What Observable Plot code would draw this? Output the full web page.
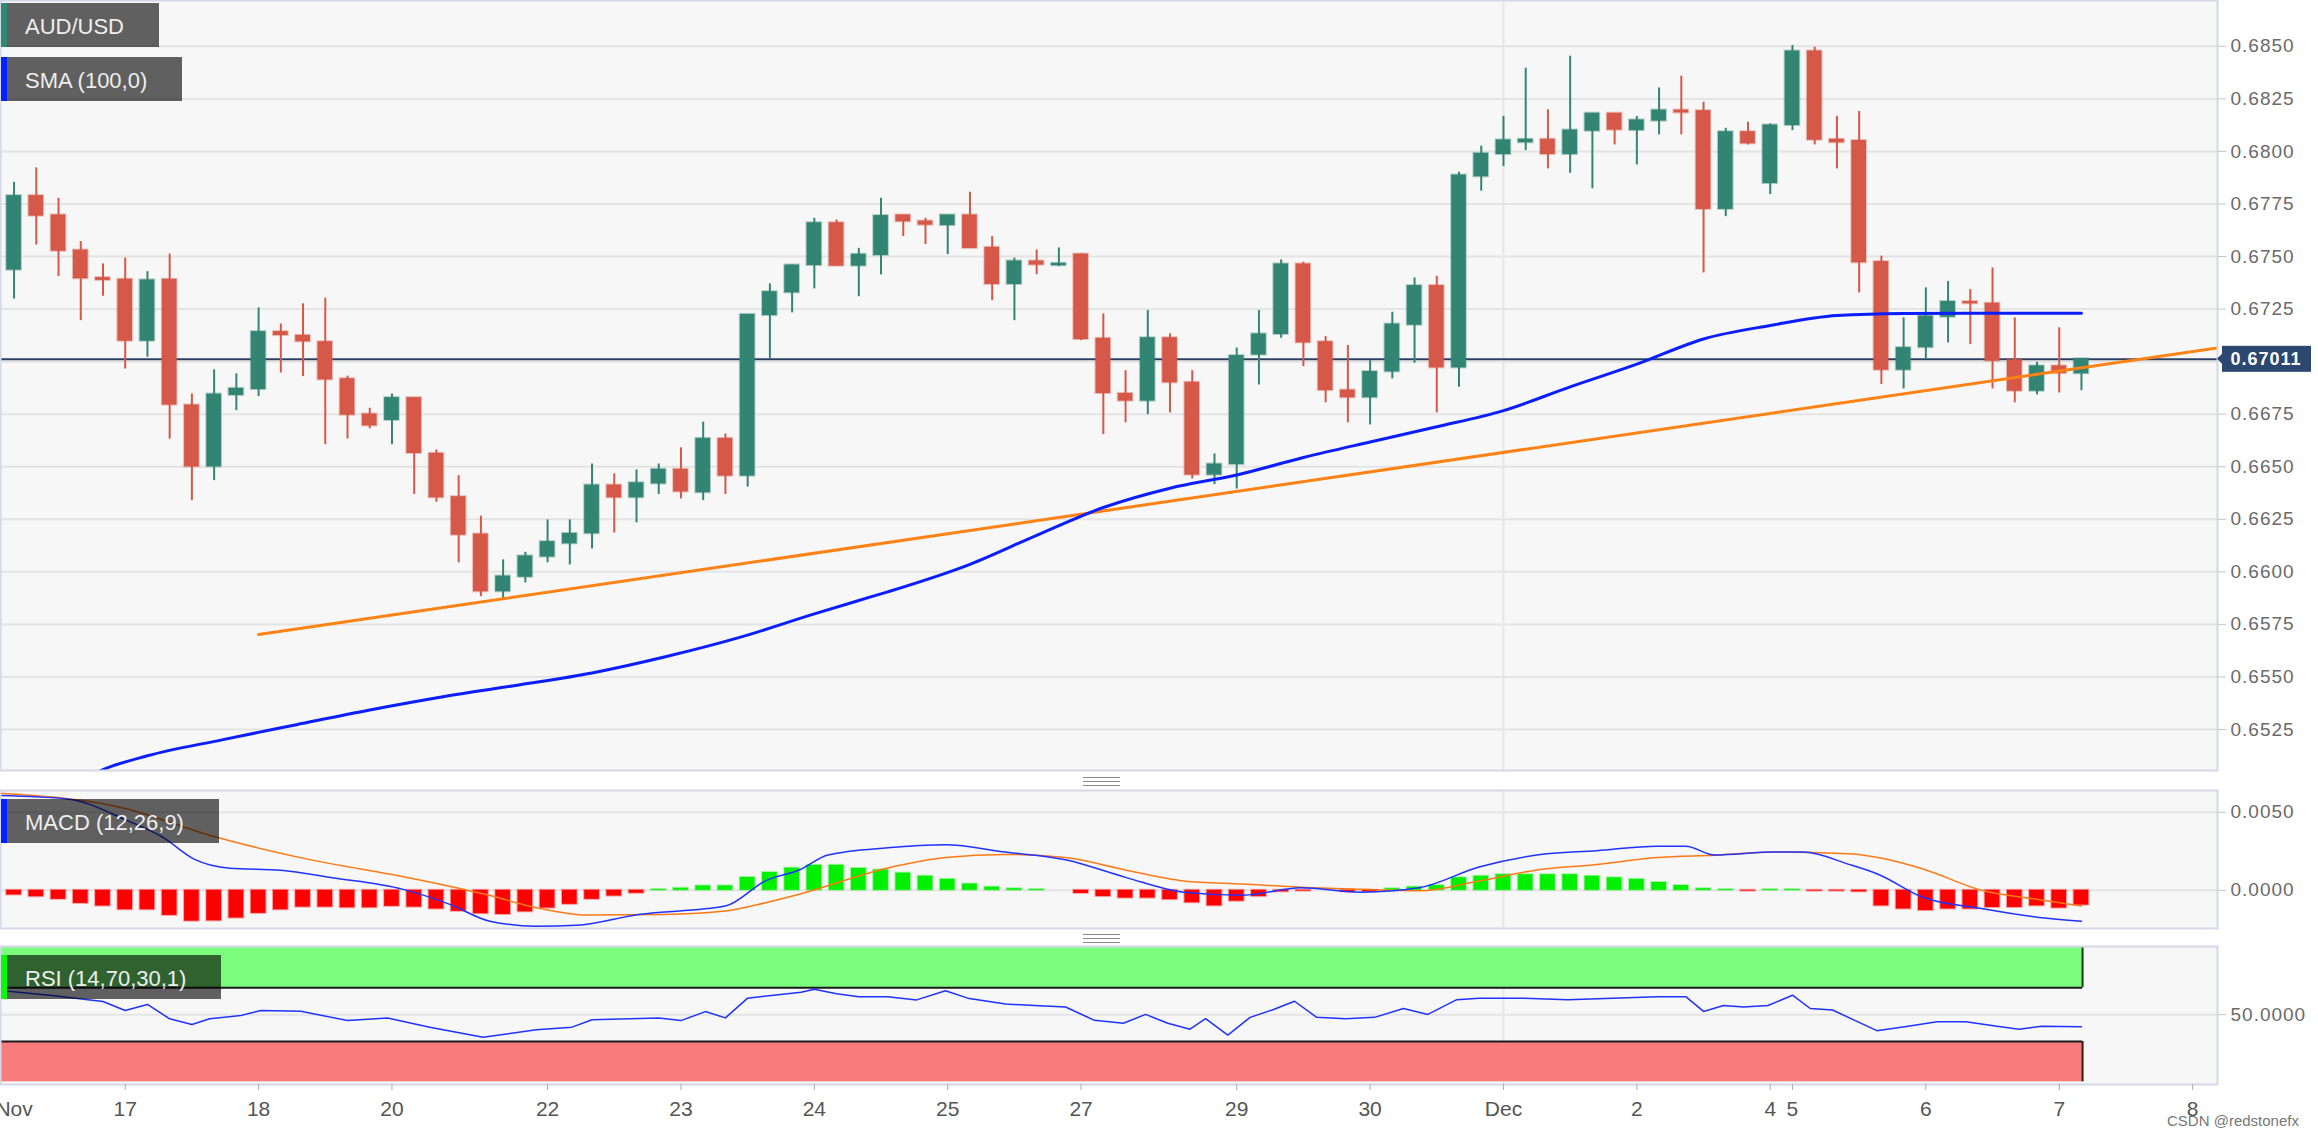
<!DOCTYPE html>
<html><head><meta charset="utf-8">
<script src="https://cdn.jsdelivr.net/npm/d3@7"></script>
<script src="https://cdn.jsdelivr.net/npm/@observablehq/plot@0.6"></script>
<style>
html,body{margin:0;padding:0;background:#fff}
body{width:2318px;height:1135px;overflow:hidden;position:relative;font-family:"Liberation Sans",Arial,sans-serif}
#root svg{position:absolute;left:0}
.tag{position:absolute;left:1px;height:44px;line-height:48px;background:rgba(0,0,0,0.61);color:#eeeeee;font-size:22px;padding:0 35px 0 18px;border-left:6px solid #000;white-space:nowrap;z-index:5}
.handle{position:absolute;width:37px;height:7px;border-top:1px solid #888;border-bottom:1px solid #888;z-index:5}
.handle::after{content:"";position:absolute;left:0;right:0;top:3px;border-top:1px solid #888}
.wm{position:absolute;left:2167px;top:1112px;font-size:15px;color:#777;z-index:5;white-space:nowrap}
</style>
</head><body>
<div id="root"></div>
<script>
// ---------- DATA ----------
const candleOpen  = [0.67438,0.67787,0.67695,0.67528,0.67397,0.67389,0.67100,0.67389,0.66791,0.66502,0.66842,0.66870,0.67140,0.67122,0.67092,0.66916,0.66748,0.66723,0.66826,0.66561,0.66355,0.66177,0.65908,0.65977,0.66073,0.66136,0.66184,0.66410,0.66355,0.66421,0.66485,0.66379,0.66632,0.66458,0.67222,0.67330,0.67460,0.67658,0.67457,0.67508,0.67695,0.67666,0.67650,0.67695,0.67541,0.67370,0.67476,0.67459,0.67509,0.67108,0.66846,0.66815,0.67111,0.66899,0.66463,0.66513,0.67034,0.67132,0.67462,0.67092,0.66862,0.66831,0.66954,0.67176,0.67359,0.66973,0.67882,0.67988,0.68044,0.68055,0.67988,0.68099,0.68179,0.68102,0.68147,0.68194,0.68191,0.67727,0.68091,0.67850,0.68126,0.68475,0.68055,0.68049,0.67473,0.66962,0.67069,0.67214,0.67283,0.67275,0.67005,0.66862,0.66977,0.66945];
const candleHigh  = [0.67853,0.67922,0.67777,0.67571,0.67465,0.67493,0.67428,0.67512,0.66846,0.66961,0.66942,0.67256,0.67179,0.67275,0.67302,0.66931,0.66778,0.66846,0.66826,0.66580,0.66458,0.66265,0.66057,0.66093,0.66247,0.66247,0.66513,0.66466,0.66485,0.66513,0.66590,0.66712,0.66656,0.67222,0.67370,0.67460,0.67682,0.67674,0.67539,0.67777,0.67695,0.67682,0.67695,0.67806,0.67595,0.67493,0.67531,0.67541,0.67512,0.67227,0.66957,0.67243,0.67132,0.66957,0.66561,0.67065,0.67243,0.67484,0.67473,0.67119,0.67077,0.67005,0.67235,0.67398,0.67406,0.67901,0.68025,0.68167,0.68396,0.68198,0.68453,0.68179,0.68179,0.68166,0.68302,0.68358,0.68234,0.68110,0.68139,0.68131,0.68504,0.68496,0.68167,0.68190,0.67502,0.67208,0.67351,0.67381,0.67343,0.67446,0.67208,0.66997,0.67161,0.67011];
const candleLow   = [0.67298,0.67555,0.67405,0.67195,0.67311,0.66965,0.67021,0.66631,0.66339,0.66434,0.66767,0.66834,0.66946,0.66929,0.66605,0.66632,0.66680,0.66605,0.66368,0.66331,0.66043,0.65882,0.65871,0.65947,0.66043,0.66033,0.66109,0.66185,0.66233,0.66368,0.66347,0.66339,0.66368,0.66403,0.67013,0.67232,0.67346,0.67455,0.67309,0.67413,0.67595,0.67557,0.67509,0.67541,0.67290,0.67195,0.67414,0.67452,0.67100,0.66653,0.66709,0.66748,0.66756,0.66442,0.66415,0.66394,0.66889,0.67111,0.66976,0.66804,0.66709,0.66699,0.66918,0.66992,0.66756,0.66878,0.67811,0.67928,0.68004,0.67917,0.67896,0.67822,0.68031,0.67936,0.68079,0.68079,0.67422,0.67690,0.68031,0.67795,0.68099,0.68031,0.67917,0.67327,0.66891,0.66870,0.67013,0.67089,0.67081,0.66870,0.66804,0.66842,0.66851,0.66862];
const candleClose = [0.67787,0.67695,0.67528,0.67397,0.67389,0.67100,0.67386,0.66796,0.66502,0.66843,0.66870,0.67140,0.67127,0.67097,0.66916,0.66748,0.66697,0.66826,0.66566,0.66355,0.66177,0.65908,0.65977,0.66073,0.66141,0.66180,0.66410,0.66355,0.66421,0.66485,0.66383,0.66632,0.66458,0.67222,0.67330,0.67457,0.67658,0.67457,0.67508,0.67692,0.67668,0.67652,0.67695,0.67541,0.67370,0.67476,0.67462,0.67465,0.67108,0.66851,0.66815,0.67111,0.66902,0.66463,0.66510,0.67026,0.67129,0.67462,0.67092,0.66865,0.66831,0.66950,0.67176,0.67359,0.66973,0.67885,0.67988,0.68052,0.68055,0.67988,0.68099,0.68179,0.68104,0.68147,0.68194,0.68186,0.67727,0.68091,0.68039,0.68123,0.68475,0.68056,0.68044,0.67473,0.66962,0.67064,0.67214,0.67283,0.67278,0.67005,0.66862,0.66977,0.66946,0.67011];
const lastPrice = 0.67011;

const smaIdx = [3.0,3.9,6.0,9.4,12.7,16.0,19.3,22.7,26.0,29.3,32.6,36.0,38.0,39.3,43,46,49,52,55,58,61,64,67,70,73,76,79,82,85,88,93];
const smaVal = [0.65008,0.65055,0.65125,0.65202,0.65273,0.65343,0.65406,0.65462,0.65519,0.65596,0.65687,0.65800,0.65864,0.65905,0.66036,0.66174,0.66306,0.66398,0.66461,0.66544,0.66618,0.66690,0.66767,0.66880,0.66988,0.67108,0.67172,0.67219,0.67229,0.67230,0.67230];

const trendIdx = [11, 99.12];
const trendVal = [0.65702, 0.67065];

const gridTicks = [0.6525,0.6550,0.6575,0.6600,0.6625,0.6650,0.6675,0.6700,0.6725,0.6750,0.6775,0.6800,0.6825,0.6850];
const priceTickLabels = [0.6525,0.6550,0.6575,0.6600,0.6625,0.6650,0.6675,0.6725,0.6750,0.6775,0.6800,0.6825,0.6850];

const histVal = [-0.00030,-0.00041,-0.00058,-0.00084,-0.00101,-0.00125,-0.00125,-0.00161,-0.00198,-0.00196,-0.00178,-0.00148,-0.00125,-0.00108,-0.00108,-0.00112,-0.00112,-0.00103,-0.00108,-0.00120,-0.00135,-0.00150,-0.00155,-0.00138,-0.00114,-0.00090,-0.00058,-0.00037,-0.00019,0.00005,0.00013,0.00028,0.00028,0.00082,0.00114,0.00142,0.00160,0.00160,0.00140,0.00130,0.00110,0.00090,0.00070,0.00040,0.00020,0.00010,0.00005,0.00000,-0.00020,-0.00040,-0.00050,-0.00050,-0.00060,-0.00080,-0.00100,-0.00070,-0.00040,-0.00010,-0.00005,0.00000,-0.00010,-0.00010,0.00010,0.00020,0.00030,0.00080,0.00090,0.00100,0.00100,0.00100,0.00100,0.00090,0.00080,0.00070,0.00050,0.00030,0.00010,0.00005,-0.00005,0.00005,0.00005,-0.00005,-0.00005,-0.00010,-0.00100,-0.00120,-0.00130,-0.00120,-0.00120,-0.00110,-0.00110,-0.00100,-0.00114,-0.00095];

const macdIdx = [-0.6,2.4,5.1,6.7,8.1,9.7,12,14.3,17.5,19.6,21.4,23.5,25.3,28.1,32,33.8,35.4,36.6,39.3,41.9,44.6,47.3,50,52.6,55.3,57.9,60.6,63.2,65.9,68.5,71.2,73.9,75.2,76.5,79.2,80.5,82.5,83.9,85.8,88.5,91.1,93];
const macdVal = [0.00608,0.00586,0.00447,0.00339,0.00200,0.00142,0.00129,0.00081,0.00006,-0.00090,-0.00198,-0.00230,-0.00224,-0.00155,-0.00101,0.00060,0.00135,0.00226,0.00273,0.00292,0.00245,0.00196,0.00083,-0.00012,-0.00031,0.00016,-0.00012,0.00016,0.00149,0.00226,0.00254,0.00283,0.00283,0.00226,0.00245,0.00245,0.00168,0.00100,-0.00041,-0.00117,-0.00174,-0.00198];
const signalIdx = [-0.6,5.1,8.6,13.2,17.75,21.2,23.5,25.8,29.2,32,33.8,35.4,39.3,41.9,44.6,47.3,50,52.6,55.3,57.9,60.6,63.2,65.9,68.5,71.2,73.9,76.5,79.2,82.5,85.8,88.5,91.1,93];
const signalVal = [0.00622,0.00522,0.00361,0.00200,0.00081,-0.00026,-0.00112,-0.00159,-0.00155,-0.00133,-0.00080,-0.00022,0.00143,0.00210,0.00230,0.00210,0.00130,0.00060,0.00040,0.00020,0.00007,-0.00003,0.00060,0.00130,0.00165,0.00210,0.00225,0.00245,0.00235,0.00140,0.00000,-0.00060,-0.00100];

const rsiIdx = [-0.6,1.7,4,5,6,7,8,8.8,10.2,11.1,12.9,15,16.8,18.7,21.1,23.5,25.1,26,29,30,31.1,32,33,35.4,36,37,38,39.3,40.6,41.9,42.9,44.6,45.9,47.3,48.6,49.9,50.9,51.9,52.9,53.6,54.6,55.6,56.6,57.6,58.6,59.9,61.2,62.5,63.6,64.9,65.9,67.9,69.9,71.9,73.9,75.2,76,76.9,77.8,78.9,80,80.8,81.8,82.8,83.8,85.2,86.5,87.8,89.2,90.2,91.2,93];
const rsiVal = [68,64.3,59.8,53.1,57.6,46.9,42.7,46.9,49.4,53.1,52.6,45.6,47.6,40.7,33.2,38.7,40.7,46.2,47.6,45.6,52.3,47.6,62.3,66.7,69,65.6,63.4,63.4,61,67.8,62.3,58,56.8,55.7,45.8,43.6,50.2,43.6,39.2,47,34.8,48,53.5,60,48,47,48,54.6,50.2,61.2,62.3,62.3,61.2,62.3,63.4,63.4,52.4,56.8,55.7,56.8,64.5,54.6,53.5,45.8,38.1,41.4,44.7,44.7,41.4,39.2,41.4,41];

const xTickIdx = [0,5,11,17,24,30,36,42,48,55,61,67,73,79,80,86,92,98];
const xTickLab = ["Nov","17","18","20","22","23","24","25","27","29","30","Dec","2","4","5","6","7","8"];
const decIdx = 67;

// ---------- STYLE ----------
const GREEN = "#338573", RED = "#d55848";
const PANEL = "#f7f7f7", BORDER = "#d4d8e8", GRID = "#e4e4e4";
const FONT = "Liberation Sans, Arial, sans-serif";
const xDomain = [-0.61, 99.12];
const common = {width: 2318, marginLeft: 0, marginRight: 101, marginTop: 0,
  x: {domain: xDomain, axis: null, label: null},
  style: {fontFamily: FONT, background: "transparent", overflow: "visible"}};
const fmt4 = d3.format(".4f");
const yAxisOpts = {anchor: "right", label: null, tickSize: 8, tickPadding: 5, tickFormat: fmt4, fontSize: 19, stroke: "#c4c4c4", fill: "#6a6a6a"};

const candles = candleOpen.map((o, i) => ({i, o, h: candleHigh[i], l: candleLow[i], c: candleClose[i]}));
const ups = candles.filter(d => d.c >= d.o), downs = candles.filter(d => d.c < d.o);
const bodyMarks = (arr, col) => [
  Plot.ruleX(arr, {x: "i", y1: "l", y2: "h", stroke: col, strokeWidth: 2}),
  Plot.rect(arr, {x1: d => d.i - 0.33, x2: d => d.i + 0.33, y1: d => Math.min(d.o, d.c), y2: d => Math.max(d.o, d.c),
    fill: col, stroke: col, strokeOpacity: 0.35, strokeWidth: 2, insetTop: -0.6, insetBottom: -0.6})
];
const sma = smaIdx.map((i, k) => ({i, v: smaVal[k]}));
const trend = trendIdx.map((i, k) => ({i, v: trendVal[k]}));

const root = document.getElementById("root");

// ---------- MAIN ----------
const main = Plot.plot({...common, height: 771, marginBottom: 1,
  y: {domain: [0.65055, 0.68718], axis: null, label: null},
  marks: [
    Plot.frame({fill: PANEL}),
    Plot.gridY(gridTicks, {stroke: GRID, strokeWidth: 2, strokeOpacity: 1}),
    Plot.ruleX([decIdx], {stroke: "#e6e6e6", strokeWidth: 2}),
    Plot.ruleY([lastPrice], {stroke: "#2d4064", strokeWidth: 2}),
    ...bodyMarks(ups, GREEN), ...bodyMarks(downs, RED),
    Plot.line(trend, {x: "i", y: "v", stroke: "#ff8214", strokeWidth: 3, clip: true}),
    Plot.line(sma, {x: "i", y: "v", stroke: "#0a1eff", strokeWidth: 3, curve: "monotone-x", clip: true}),
    Plot.frame({stroke: BORDER, strokeWidth: 2}),
    Plot.axisY(priceTickLabels, yAxisOpts)
  ]});
main.style.top = "0px";
root.appendChild(main);

// current price label
{
  const ys = main.scale("y"), xs = main.scale("x");
  const yy = ys.apply(lastPrice), x0 = xs.apply(xDomain[1]);
  const g = d3.select(main).append("g");
  g.append("path").attr("d", `M${x0},${yy} L${x0 + 6},${yy - 6} L${x0 + 6},${yy + 6} Z`).attr("fill", "#2c4770");
  g.append("rect").attr("x", x0 + 5).attr("y", yy - 13).attr("width", 89).attr("height", 26).attr("fill", "#2c4770");
  g.append("text").attr("x", x0 + 49).attr("y", yy).attr("dy", "0.36em").attr("text-anchor", "middle")
    .attr("fill", "#fff").attr("font-weight", "bold").attr("font-size", 18).attr("letter-spacing", 1)
    .attr("font-family", FONT).text(d3.format(".5f")(lastPrice));
}

// ---------- MACD ----------
const hist = histVal.map((v, i) => ({i, v}));
const macd = macdIdx.map((i, k) => ({i, v: macdVal[k]}));
const signal = signalIdx.map((i, k) => ({i, v: signalVal[k]}));
const macdPlot = Plot.plot({...common, height: 138, marginBottom: 0,
  y: {domain: [-0.00245, 0.0064], axis: null, label: null},
  marks: [
    Plot.frame({fill: PANEL}),
    Plot.gridY([0, 0.005], {stroke: GRID, strokeWidth: 2, strokeOpacity: 1}),
    Plot.ruleX([decIdx], {stroke: "#e6e6e6", strokeWidth: 2}),
    Plot.rect(hist.filter(d => d.v >= 0), {x1: d => d.i - 0.33, x2: d => d.i + 0.33, y1: 0, y2: "v", fill: "#00f000", stroke: "#00f000", strokeOpacity: 0.35, strokeWidth: 2}),
    Plot.rect(hist.filter(d => d.v < 0), {x1: d => d.i - 0.33, x2: d => d.i + 0.33, y1: 0, y2: "v", fill: "#ff0000", stroke: "#ff0000", strokeOpacity: 0.35, strokeWidth: 2}),
    Plot.line(signal, {x: "i", y: "v", stroke: "#ff7a14", strokeWidth: 1.5, curve: "monotone-x", clip: true}),
    Plot.line(macd, {x: "i", y: "v", stroke: "#1f33ff", strokeWidth: 1.5, curve: "monotone-x", clip: true}),
    Plot.frame({stroke: BORDER, strokeWidth: 2}),
    Plot.axisY([0, 0.005], yAxisOpts)
  ]});
macdPlot.style.top = "790px";
root.appendChild(macdPlot);

// ---------- RSI ----------
const rsi = rsiIdx.map((i, k) => ({i, v: rsiVal[k]}));
const bandEnd = candleOpen.length - 1 + 0.05;
const rsiPlot = Plot.plot({...common, height: 189, marginBottom: 51,
  y: {domain: [-2.0, 100.77], axis: null, label: null},
  marks: [
    Plot.frame({fill: PANEL}),
    Plot.gridY([50], {stroke: GRID, strokeWidth: 2, strokeOpacity: 1}),
    Plot.ruleX([decIdx], {stroke: "#e6e6e6", strokeWidth: 2}),
    Plot.rect([{a: 70, b: 100}], {x1: xDomain[0], x2: bandEnd, y1: "a", y2: "b", fill: "#7cfc7c"}),
    Plot.rect([{a: 0, b: 30}], {x1: xDomain[0], x2: bandEnd, y1: "a", y2: "b", fill: "#fa7b7b"}),
    Plot.ruleY([70, 30], {x1: xDomain[0], x2: bandEnd, stroke: "#1a1a1a", strokeWidth: 2}),
    Plot.ruleX([bandEnd], {y1: 70, y2: 100, stroke: "#1a3a1a", strokeWidth: 2}),
    Plot.ruleX([bandEnd], {y1: 0, y2: 30, stroke: "#3a1a1a", strokeWidth: 2}),
    Plot.line(rsi, {x: "i", y: "v", stroke: "#1f33ff", strokeWidth: 1.5, clip: true}),
    Plot.frame({stroke: BORDER, strokeWidth: 2}),
    Plot.axisY([50], yAxisOpts),
    Plot.axisX(xTickIdx.slice(1), {anchor: "bottom", label: null, tickSize: 6, tickPadding: 11, tickFormat: () => "", stroke: "#aaaaaa"}),
    Plot.axisX(xTickIdx, {anchor: "bottom", label: null, tickSize: 0, tickPadding: 17, tickFormat: d => xTickLab[xTickIdx.indexOf(d)], fontSize: 21, fill: "#555"})
  ]});
rsiPlot.style.top = "946px";
root.appendChild(rsiPlot);

// letter-spacing for right axis labels
document.querySelectorAll('[aria-label="y-axis tick label"] text').forEach(t => t.setAttribute("letter-spacing", "1"));

// ---------- TAGS ----------
function tag(text, top, col) {
  const d = document.createElement("div");
  d.className = "tag"; d.textContent = text; d.style.top = top + "px"; d.style.borderLeftColor = col;
  document.body.appendChild(d);
}
tag("AUD/USD", 3, "#2e8b73");
tag("SMA (100,0)", 57, "#0022ff");
tag("MACD (12,26,9)", 799, "#0022ff");
tag("RSI (14,70,30,1)", 955, "#00ff00");
function handle(top) {
  const h = document.createElement("div"); h.className = "handle";
  h.style.left = "1083px"; h.style.top = top + "px"; document.body.appendChild(h);
}
handle(777); handle(934);
const wm = document.createElement("div"); wm.className = "wm"; wm.textContent = "CSDN @redstonefx"; document.body.appendChild(wm);
</script>
</body></html>
